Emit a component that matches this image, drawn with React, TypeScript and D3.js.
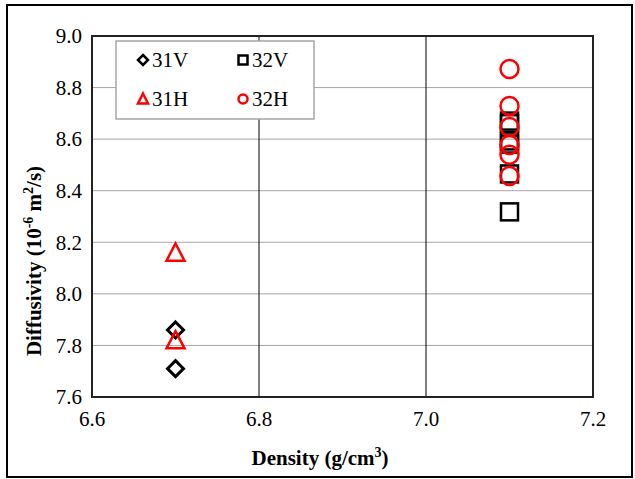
import React from "react";
import * as d3 from "d3";

const xTicks = [6.6, 6.8, 7.0, 7.2];
const yTicks = [7.6, 7.8, 8.0, 8.2, 8.4, 8.6, 8.8, 9.0];

const x31V = [6.7, 6.7];
const y31V = [7.86, 7.71];
const x31H = [6.7, 6.7];
const y31H = [8.16, 7.82];
const x32V = [7.1, 7.1, 7.1, 7.1, 7.1, 7.1];
const y32V = [8.67, 8.66, 8.593, 8.581, 8.465, 8.318];
const x32H = [7.1, 7.1, 7.1, 7.1, 7.1, 7.1];
const y32H = [8.872, 8.729, 8.647, 8.577, 8.539, 8.457];

const W = 635;
const H = 479;
const L = 92, R = 593, T = 36, B = 397;

const FONT = "'Times New Roman', 'Liberation Serif', Tinos, Times, serif";

function Diamond({ cx, cy, r, sw }: { cx: number; cy: number; r: number; sw: number }) {
  return (
    <path
      d={`M${cx},${cy - r}L${cx + r},${cy}L${cx},${cy + r}L${cx - r},${cy}Z`}
      fill="none"
      stroke="#000"
      strokeWidth={sw}
    />
  );
}
function Square({ cx, cy, s, sw }: { cx: number; cy: number; s: number; sw: number }) {
  return <rect x={cx - s / 2} y={cy - s / 2} width={s} height={s} fill="none" stroke="#000" strokeWidth={sw} />;
}
function Triangle({ cx, cy, s, sw }: { cx: number; cy: number; s: number; sw: number }) {
  const h = s * 0.9;
  return (
    <path
      d={`M${cx},${cy - h / 2 - 1}L${cx + s / 2},${cy + h / 2}L${cx - s / 2},${cy + h / 2}Z`}
      fill="none"
      stroke="#ff0000"
      strokeWidth={sw}
      strokeLinejoin="miter"
    />
  );
}
function Circle({ cx, cy, r, sw }: { cx: number; cy: number; r: number; sw: number }) {
  return <circle cx={cx} cy={cy} r={r} fill="none" stroke="#ff0000" strokeWidth={sw} />;
}

export default function App() {
  const xs = d3.scaleLinear().domain([6.6, 7.2]).range([L, R]);
  const ys = d3.scaleLinear().domain([7.6, 9.0]).range([B, T]);

  return (
    <svg
      width={W}
      height={H}
      style={{ position: "absolute", left: 0, top: 0, display: "block", background: "#fff", fontFamily: FONT }}
    >
      <rect x={7} y={5} width={625} height={472} fill="#fff" stroke="#000" strokeWidth={2} />

      {/* horizontal gridlines */}
      {yTicks.map((t) => (
        <line key={"h" + t} x1={L} x2={R} y1={ys(t)} y2={ys(t)} stroke="#a6a6a6" strokeWidth={1} />
      ))}
      {/* vertical gridlines */}
      {xTicks.slice(1, -1).map((t) => (
        <line key={"v" + t} x1={xs(t)} x2={xs(t)} y1={T} y2={B} stroke="#000" strokeWidth={1} />
      ))}

      {/* plot border */}
      <rect x={L} y={T} width={R - L} height={B - T} fill="none" stroke="#222" strokeWidth={2} />

      {/* y tick labels */}
      {yTicks.map((t) => (
        <text key={"yl" + t} x={L - 10} y={ys(t)} dy="0.35em" textAnchor="end" fontSize={21} fill="#000">
          {d3.format(".1f")(t)}
        </text>
      ))}
      {/* x tick labels */}
      {xTicks.map((t) => (
        <text key={"xl" + t} x={xs(t)} y={B + 29} textAnchor="middle" fontSize={21} fill="#000">
          {d3.format(".1f")(t)}
        </text>
      ))}

      {/* axis titles */}
      <text x={320} y={465} textAnchor="middle" fontSize={21} fontWeight="bold" fill="#000">
        Density (g/cm<tspan fontSize={14} dy={-8}>3</tspan>
        <tspan dy={8}>)</tspan>
      </text>
      <text
        transform={`translate(41,261) rotate(-90)`}
        textAnchor="middle"
        fontSize={21}
        fontWeight="bold"
        fill="#000"
      >
        Diffusivity (10<tspan fontSize={14} dy={-8}>-6</tspan>
        <tspan dy={8}> m</tspan>
        <tspan fontSize={14} dy={-8}>2</tspan>
        <tspan dy={8}>/s)</tspan>
      </text>

      {/* data */}
      {x32V.map((v, i) => (
        <Square key={"s" + i} cx={xs(v)} cy={ys(y32V[i])} s={17} sw={2.5} />
      ))}
      {x31V.map((v, i) => (
        <Diamond key={"d" + i} cx={xs(v)} cy={ys(y31V[i])} r={8} sw={3} />
      ))}
      {x31H.map((v, i) => (
        <Triangle key={"t" + i} cx={xs(v)} cy={ys(y31H[i])} s={18} sw={2.5} />
      ))}
      {x32H.map((v, i) => (
        <Circle key={"c" + i} cx={xs(v)} cy={ys(y32H[i])} r={9} sw={2.5} />
      ))}

      {/* legend */}
      <rect x={116} y={41} width={198} height={78} fill="#fff" stroke="#a6a6a6" strokeWidth={1.5} />
      <Diamond cx={143} cy={60} r={5} sw={2.5} />
      <text x={152} y={60} dy="0.35em" fontSize={21} fill="#000">31V</text>
      <Square cx={243} cy={60} s={9} sw={2.5} />
      <text x={252} y={60} dy="0.35em" fontSize={21} fill="#000">32V</text>
      <Triangle cx={143} cy={99} s={10} sw={2.5} />
      <text x={152} y={99} dy="0.35em" fontSize={21} fill="#000">31H</text>
      <Circle cx={243} cy={99} r={4.5} sw={2.5} />
      <text x={252} y={99} dy="0.35em" fontSize={21} fill="#000">32H</text>
    </svg>
  );
}
